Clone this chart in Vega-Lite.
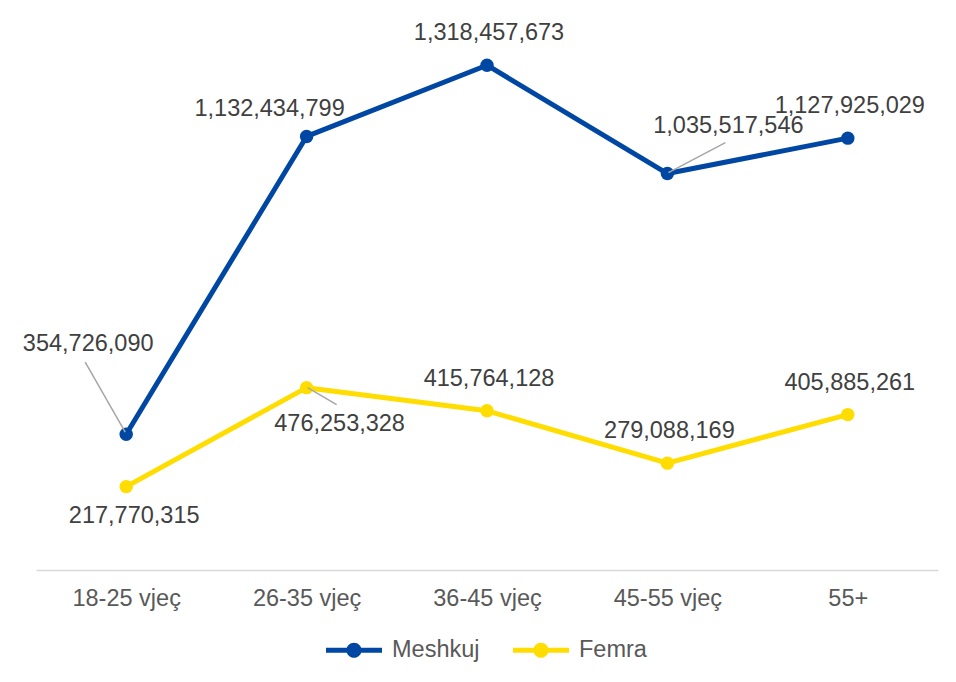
{
  "$schema": "https://vega.github.io/schema/vega-lite/v6.json",
  "width": 902,
  "height": 536,
  "autosize": {"type": "none"},
  "padding": {"left": 36, "top": 34, "right": 18, "bottom": 112},
  "background": "white",
  "config": {"view": {"stroke": null}, "font": "Liberation Sans"},
  "data": {
    "values": [
      {"age": "18-25 vjeç", "sex": "Meshkuj", "value": 354726090},
      {"age": "26-35 vjeç", "sex": "Meshkuj", "value": 1132434799},
      {"age": "36-45 vjeç", "sex": "Meshkuj", "value": 1318457673},
      {"age": "45-55 vjeç", "sex": "Meshkuj", "value": 1035517546},
      {"age": "55+", "sex": "Meshkuj", "value": 1127925029},
      {"age": "18-25 vjeç", "sex": "Femra", "value": 217770315},
      {"age": "26-35 vjeç", "sex": "Femra", "value": 476253328},
      {"age": "36-45 vjeç", "sex": "Femra", "value": 415764128},
      {"age": "45-55 vjeç", "sex": "Femra", "value": 279088169},
      {"age": "55+", "sex": "Femra", "value": 405885261}
    ]
  },
  "encoding": {
    "x": {
      "field": "age", "type": "ordinal",
      "sort": ["18-25 vjeç", "26-35 vjeç", "36-45 vjeç", "45-55 vjeç", "55+"],
      "scale": {"type": "point", "padding": 0.5},
      "axis": {"title": null, "labelAngle": 0, "ticks": false, "domainColor": "#D9D9D9", "domainWidth": 1.5, "labelFontSize": 23.5, "labelColor": "#595959", "labelPadding": 16, "labelFont": "Liberation Sans"}
    },
    "y": {"field": "value", "type": "quantitative", "scale": {"domain": [0, 1400000000]}, "axis": null}
  },
  "layer": [
    {
      "mark": {"type": "line", "strokeWidth": 5, "strokeCap": "round", "strokeJoin": "round", "point": {"filled": true, "size": 180, "opacity": 1}},
      "encoding": {
        "color": {
          "field": "sex", "type": "nominal",
          "scale": {"domain": ["Meshkuj", "Femra"], "range": ["#0047A3", "#FFDD00"]},
          "legend": {
            "title": null, "orient": "none", "direction": "horizontal",
            "legendX": 290, "legendY": 588,
            "symbolType": "M-1,-0.09L1,-0.09L1,0.09L-1,0.09Z M0.27,0A0.27,0.27,0,1,1,-0.27,0A0.27,0.27,0,1,1,0.27,0Z",
            "symbolSize": 3136, "symbolStrokeWidth": 0,
            "labelFontSize": 23.5, "labelColor": "#595959", "labelFont": "Liberation Sans",
            "labelOffset": 10, "columnPadding": 33,
            "encode": {"symbols": {"update": {"fill": {"scale": "color", "field": "value"}, "opacity": {"value": 1}}}}
          }
        }
      }
    },
    {
      "transform": [{"filter": "datum.sex=='Meshkuj' && datum.age=='18-25 vjeç'"}],
      "mark": {"type": "rule", "color": "#A6A6A6", "strokeWidth": 1.5, "xOffset": -1, "yOffset": -2, "x2Offset": -41, "y2Offset": -72},
      "encoding": {"x2": {"field": "age"}, "y2": {"field": "value"}}
    },
    {
      "transform": [{"filter": "datum.sex=='Meshkuj' && datum.age=='45-55 vjeç'"}],
      "mark": {"type": "rule", "color": "#A6A6A6", "strokeWidth": 1.5, "xOffset": 1, "yOffset": -1, "x2Offset": 58, "y2Offset": -31},
      "encoding": {"x2": {"field": "age"}, "y2": {"field": "value"}}
    },
    {
      "transform": [{"filter": "datum.sex=='Femra' && datum.age=='26-35 vjeç'"}],
      "mark": {"type": "rule", "color": "#A6A6A6", "strokeWidth": 1.5, "xOffset": 1, "yOffset": 0, "x2Offset": 30, "y2Offset": 17},
      "encoding": {"x2": {"field": "age"}, "y2": {"field": "value"}}
    },
    {
      "transform": [{"filter": "(datum.sex=='Meshkuj' && (datum.age=='36-45 vjeç' || datum.age=='55+')) || (datum.sex=='Femra' && (datum.age=='36-45 vjeç' || datum.age=='45-55 vjeç' || datum.age=='55+'))"}],
      "mark": {"type": "text", "fontSize": 23.5, "color": "#404040", "baseline": "middle", "align": "center", "dx": 2, "dy": -32},
      "encoding": {"text": {"field": "value", "type": "quantitative", "format": ",d"}}
    },
    {
      "transform": [{"filter": "datum.sex=='Meshkuj' && datum.age=='26-35 vjeç'"}],
      "mark": {"type": "text", "fontSize": 23.5, "color": "#404040", "baseline": "middle", "align": "center", "dx": -37, "dy": -27},
      "encoding": {"text": {"field": "value", "type": "quantitative", "format": ",d"}}
    },
    {
      "transform": [{"filter": "datum.sex=='Meshkuj' && datum.age=='18-25 vjeç'"}],
      "mark": {"type": "text", "fontSize": 23.5, "color": "#404040", "baseline": "middle", "align": "center", "dx": -38, "dy": -90},
      "encoding": {"text": {"field": "value", "type": "quantitative", "format": ",d"}}
    },
    {
      "transform": [{"filter": "datum.sex=='Meshkuj' && datum.age=='45-55 vjeç'"}],
      "mark": {"type": "text", "fontSize": 23.5, "color": "#404040", "baseline": "middle", "align": "center", "dx": 61, "dy": -48},
      "encoding": {"text": {"field": "value", "type": "quantitative", "format": ",d"}}
    },
    {
      "transform": [{"filter": "datum.sex=='Femra' && datum.age=='18-25 vjeç'"}],
      "mark": {"type": "text", "fontSize": 23.5, "color": "#404040", "baseline": "middle", "align": "center", "dx": 8, "dy": 29},
      "encoding": {"text": {"field": "value", "type": "quantitative", "format": ",d"}}
    },
    {
      "transform": [{"filter": "datum.sex=='Femra' && datum.age=='26-35 vjeç'"}],
      "mark": {"type": "text", "fontSize": 23.5, "color": "#404040", "baseline": "middle", "align": "center", "dx": 33, "dy": 36},
      "encoding": {"text": {"field": "value", "type": "quantitative", "format": ",d"}}
    }
  ]
}
